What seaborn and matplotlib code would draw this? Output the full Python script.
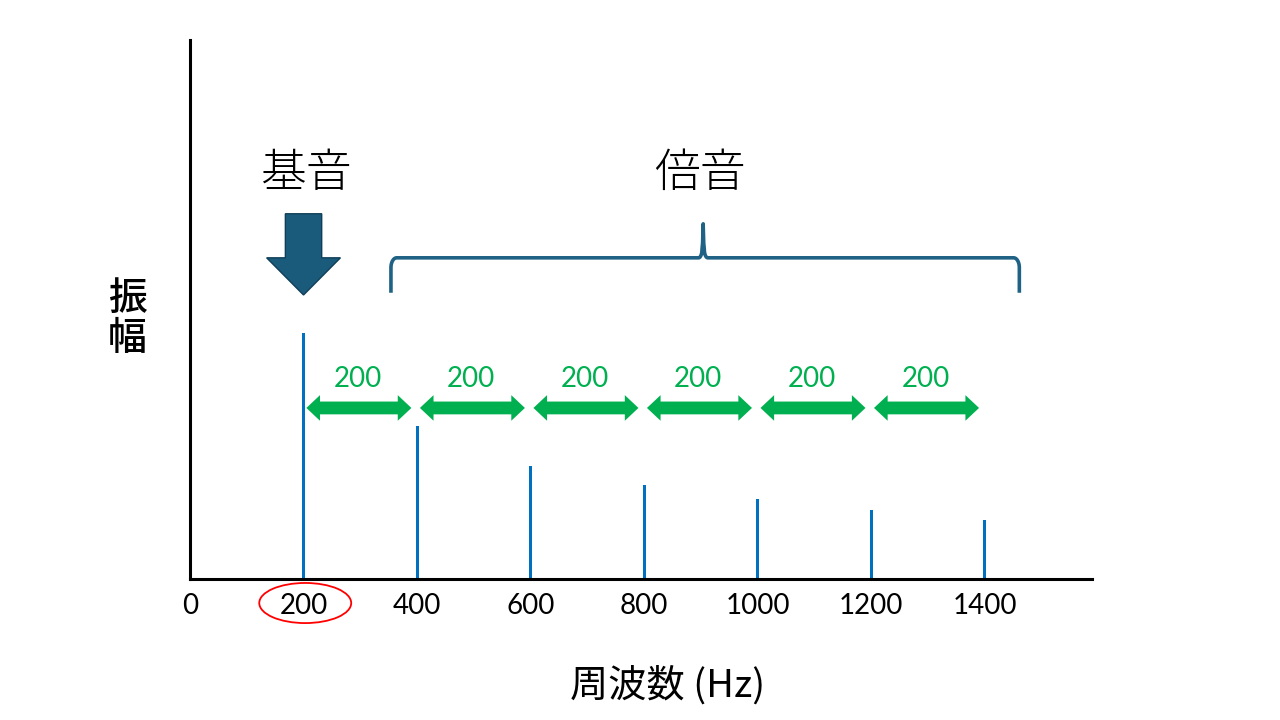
import numpy as np
import pandas as pd
import matplotlib
matplotlib.use("Agg")
import matplotlib.pyplot as plt
from matplotlib.patches import Polygon, Ellipse
import seaborn as sns

# ---- data ----
freqs = [200, 400, 600, 800, 1000, 1200, 1400]
amps = [1.0, 0.62, 0.46, 0.38, 0.325, 0.28, 0.24]
tick_vals = [0, 200, 400, 600, 800, 1000, 1200, 1400]
tick_labels = ["0", "200", "400", "600", "800", "1000", "1200", "1400"]
spacing_label = "200"
xlabel = "周波数 (Hz)"
ylabel = "振\n幅"
fund_label = "基音"
harm_label = "倍音"

BLUE = "#0070C0"
GREEN = "#00B050"
DARK = "#1A5B7C"

sns.set_theme(style="white")
plt.rcParams["font.family"] = ["Lato", "Noto Sans CJK JP", "DejaVu Sans"]
plt.rcParams["text.color"] = "black"
plt.rcParams["xtick.color"] = "black"

fig = plt.figure(figsize=(12.8, 7.2), dpi=100)
ax = fig.add_axes([190 / 1280, 141 / 720, 902 / 1280, 539 / 720])

df = pd.DataFrame({"freq": freqs, "amp": amps})
sns.barplot(data=df, x="freq", y="amp", native_scale=True, width=0.026,
            color=BLUE, saturation=1, linewidth=0, ax=ax)

ax.set_xlim(0, 1589)
ax.set_ylim(0, 2.19)
ax.set_xticks(tick_vals)
ax.set_xticklabels(tick_labels, fontsize=20, family=["Lato"], color="black")
ax.set_yticks([])
ax.tick_params(axis="x", length=0, pad=10)
ax.set_xlabel("")
ax.set_ylabel("")
for s in ["top", "right"]:
    ax.spines[s].set_visible(False)
for s in ["left", "bottom"]:
    ax.spines[s].set_color("black")
    ax.spines[s].set_linewidth(2.2)

# axis labels
fig.text(668 / 1280, 1 - 686 / 720, xlabel, ha="center", va="center",
         fontsize=27.5, family=["Noto Sans CJK JP", "DejaVu Sans"], fontweight="normal",
         color="black")
fig.text(127 / 1280, 1 - 319 / 720, ylabel, ha="center", va="center",
         fontsize=28, family=["Noto Sans CJK JP"], fontweight="medium", linespacing=1.0,
         color="black")

# green double-headed spacing arrows
y_arr = 0.695
hh = 0.052   # head half height
sh = 0.026   # shaft half height
hl = 24      # head length (Hz)
for f in freqs[:-1]:
    x0, x1 = f + 5, f + 190
    pts = [(x0, y_arr), (x0 + hl, y_arr + hh), (x0 + hl, y_arr + sh),
           (x1 - hl, y_arr + sh), (x1 - hl, y_arr + hh), (x1, y_arr),
           (x1 - hl, y_arr - hh), (x1 - hl, y_arr - sh), (x0 + hl, y_arr - sh),
           (x0 + hl, y_arr - hh)]
    ax.add_patch(Polygon(pts, closed=True, facecolor=GREEN, edgecolor="none", clip_on=False))
    ax.text((x0 + x1) / 2 - 2, 0.813, spacing_label, ha="center", va="center",
            fontsize=20, color=GREEN, family=["Lato"])

# fundamental arrow
fx = freqs[0]
arrow_pts = [(fx - 32, 1.484), (fx + 32, 1.484), (fx + 32, 1.305), (fx + 65, 1.305),
             (fx, 1.154), (fx - 65, 1.305), (fx - 32, 1.305)]
ax.add_patch(Polygon(arrow_pts, closed=True, facecolor=DARK, edgecolor="#0F3F58",
                     linewidth=1, clip_on=False))
ax.text(fx + 4, 1.645, fund_label, ha="center", va="center", fontsize=33,
        family=["Noto Sans CJK JP"], fontweight="light", color="black")

# brace over harmonics
bl, br, bt = 354, 1461, 904
yb, yh, yt = 1.163, 1.305, 1.443
r = 10  # corner size in Hz
t = np.linspace(0, np.pi / 2, 12)
rc = 0.04
left_corner_x = bl + r * (1 - np.cos(t))
left_corner_y = yh - rc * (1 - np.sin(t))
tip_t = np.linspace(0, np.pi / 2, 8)
tip_left_x = list(bt - 8 + 6 * np.sin(tip_t))
tip_left_y = list(yh + 0.035 * (1 - np.cos(tip_t)))
bx = [bl] + list(left_corner_x) + tip_left_x + [bt - 1, bt, bt + 1] + \
     [2 * bt - v for v in tip_left_x[::-1]] + \
     list(br - r * (1 - np.cos(t[::-1]))) + [br]
by = [yb] + list(left_corner_y) + tip_left_y + [yh + 0.06, yt, yh + 0.06] + \
     tip_left_y[::-1] + list(yh - rc * (1 - np.sin(t[::-1]))) + [yb]
ax.plot(bx, by, color="#1F6285", lw=2.6, clip_on=False, solid_capstyle="butt",
        solid_joinstyle="round")
ax.text(bt - 6, 1.645, harm_label, ha="center", va="center", fontsize=33,
        family=["Noto Sans CJK JP"], fontweight="light", color="black")

# red ellipse around the fundamental tick label
ax.add_patch(Ellipse((203, -0.0976), 162, 0.163, facecolor="none",
                     edgecolor="#FF0000", linewidth=1.3, clip_on=False))

fig.savefig("out.png", dpi=100)
